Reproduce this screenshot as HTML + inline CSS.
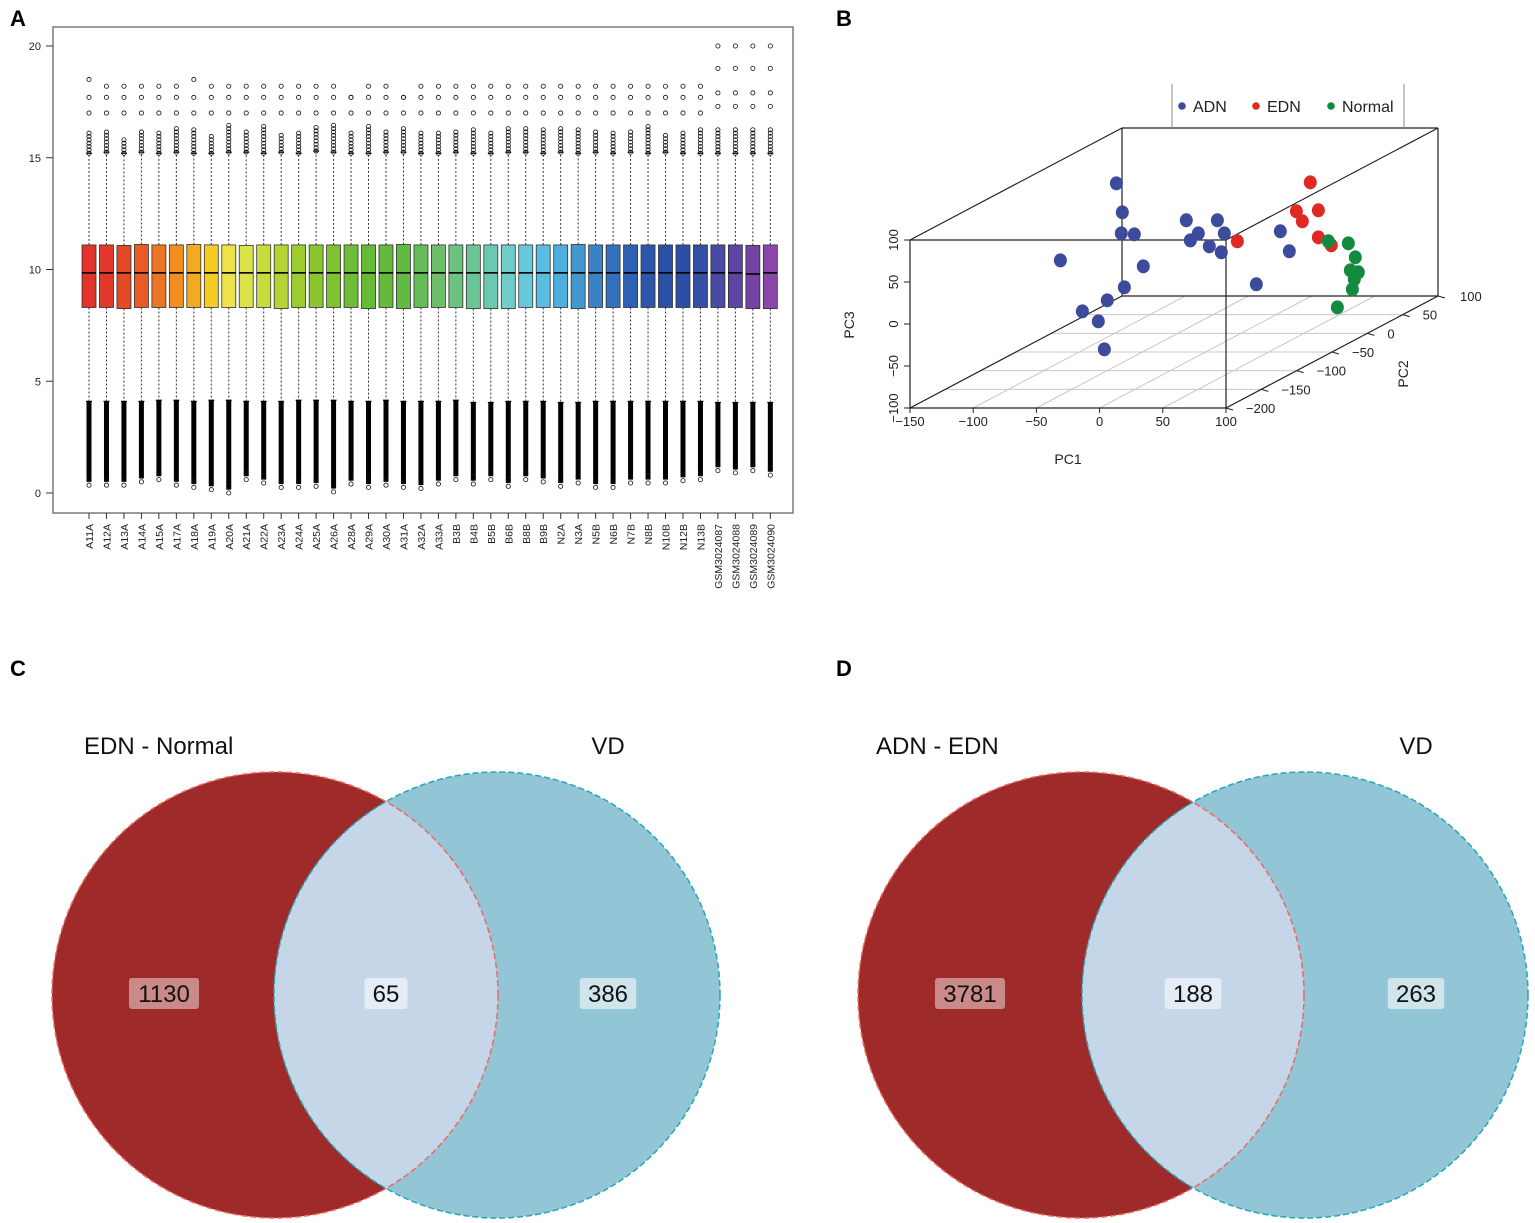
<!DOCTYPE html>
<html><head><meta charset="utf-8">
<style>
html,body{margin:0;padding:0;background:#fff;}
svg{display:block;font-family:"Liberation Sans",sans-serif;}
</style></head>
<body>
<svg id="fig" width="1535" height="1223" viewBox="0 0 1535 1223" xmlns="http://www.w3.org/2000/svg">
  <text x="10" y="26" font-size="22" font-weight="bold">A</text>
  <text x="836" y="26" font-size="22" font-weight="bold">B</text>
  <text x="10" y="676" font-size="22" font-weight="bold">C</text>
  <text x="836" y="676" font-size="22" font-weight="bold">D</text>
  <g id="boxplot"></g>
  <g id="pca"></g>
  <g id="vennC"></g>
  <g id="vennD"></g>
</svg>
<script>
// ---------- Panel A data ----------
const samples = ["A11A","A12A","A13A","A14A","A15A","A17A","A18A","A19A","A20A","A21A","A22A","A23A","A24A","A25A","A26A","A28A","A29A","A30A","A31A","A32A","A33A","B3B","B4B","B5B","B6B","B8B","B9B","N2A","N3A","N5B","N6B","N7B","N8B","N10B","N12B","N13B","GSM3024087","GSM3024088","GSM3024089","GSM3024090"];
const q1 = [8.3,8.3,8.25,8.3,8.3,8.3,8.3,8.3,8.3,8.3,8.3,8.25,8.3,8.3,8.3,8.3,8.25,8.3,8.25,8.3,8.3,8.3,8.25,8.25,8.25,8.3,8.3,8.3,8.25,8.3,8.3,8.3,8.3,8.3,8.3,8.3,8.3,8.3,8.25,8.25];
const medians = [9.85,9.85,9.85,9.85,9.85,9.85,9.85,9.85,9.85,9.85,9.85,9.85,9.85,9.85,9.85,9.85,9.85,9.85,9.85,9.85,9.85,9.85,9.85,9.85,9.85,9.85,9.85,9.85,9.85,9.85,9.85,9.85,9.85,9.85,9.85,9.85,9.85,9.85,9.8,9.85];
const q3 = [11.1,11.1,11.08,11.12,11.1,11.1,11.12,11.1,11.1,11.08,11.1,11.1,11.1,11.1,11.1,11.1,11.1,11.1,11.12,11.1,11.1,11.1,11.1,11.1,11.1,11.1,11.1,11.1,11.12,11.1,11.1,11.1,11.1,11.1,11.1,11.1,11.1,11.1,11.08,11.1];
const whiskHi = [15.2,15.25,15.2,15.25,15.2,15.25,15.2,15.2,15.25,15.25,15.2,15.25,15.2,15.3,15.25,15.2,15.2,15.25,15.25,15.2,15.2,15.25,15.2,15.2,15.25,15.25,15.2,15.25,15.2,15.25,15.2,15.25,15.2,15.25,15.2,15.2,15.2,15.2,15.2,15.2];
const denseTop = [16.1,16.2,15.9,16.2,16.2,16.4,16.3,16.0,16.5,16.2,16.4,16.0,16.1,16.4,16.5,16.1,16.5,16.2,16.3,16.1,16.2,16.2,16.3,16.1,16.3,16.3,16.3,16.3,16.3,16.2,16.2,16.2,16.4,16.1,16.1,16.3,16.3,16.3,16.3,16.3];
const outMax = [18.5,18.2,18.2,18.2,18.2,18.2,18.5,18.2,18.2,18.2,18.2,18.2,18.2,18.2,18.2,17.7,18.2,18.2,17.7,18.2,18.2,18.2,18.2,18.2,18.2,18.2,18.2,18.2,18.2,18.2,18.2,18.2,18.2,18.2,18.2,18.2,20,20,20,20];
const whiskLo = [4.1,4.1,4.1,4.1,4.15,4.15,4.1,4.15,4.15,4.1,4.1,4.1,4.15,4.15,4.15,4.1,4.1,4.15,4.1,4.1,4.1,4.15,4.05,4.05,4.1,4.1,4.1,4.05,4.05,4.1,4.1,4.1,4.1,4.1,4.1,4.1,4.05,4.05,4.05,4.05];
const outMin = [0.35,0.35,0.35,0.5,0.6,0.35,0.25,0.15,0.0,0.6,0.45,0.25,0.25,0.3,0.05,0.4,0.25,0.35,0.25,0.2,0.4,0.6,0.4,0.6,0.3,0.6,0.5,0.3,0.45,0.25,0.25,0.45,0.45,0.45,0.55,0.6,1.0,0.9,1.0,0.8];
const yTicks = [0,5,10,15,20];
const boxColors = ["#e0342a","#e2382b","#e44a26","#e85a26","#ec7424","#f08e22","#f2aa20","#f5cc24","#ede24a","#dce24a","#c9dc3e","#b4d434","#9ccc30","#8ac630","#7ec232","#6fbd36","#66ba38","#64ba3a","#62ba44","#66bc56","#6ebd6a","#6ec280","#6ac496","#6cc8b0","#70ccc6","#66c8da","#58bde0","#4eaedc","#4498d0","#3a82c4","#3270bc","#2e60b4","#2c56ac","#2c50a8","#2c4ea4","#3450a4","#4a4aa4","#5c46a4","#7444a4","#8a46a8"];

// ---------- Panel B data ----------
const adnPC1 = [-56.6,-51.9,-52.7,-42.4,-1.3,23.3,8.2,1.9,28.8,16.9,26.4,73.1,80.2,-100.9,-35.3,54.1,-50.3,-63.8,-83.5,-70.9,-66.1];
const adnPC2 = [-75,-75,-75,-75,-75,-75,-75,-75,-75,-75,-75,-75,-75,-75,-75,-75,-75,-75,-75,-75,-75];
const adnPC3 = [111.9,77.4,52.4,51.2,67.9,67.9,52.4,44,52.4,36.9,29.8,54.8,31,20.2,13.1,-8.3,-11.9,-27.4,-40.5,-52.4,-85.7];
const ednPC1 = [96.8,85.8,103.2,90.5,103.2,113.4,39.1];
const ednPC2 = [-75,-75,-75,-75,-75,-75,-75];
const ednPC3 = [113.1,78.6,79.8,66.7,47.6,38.1,42.9];
const nrmPC1 = [111.1,126.9,132.4,128.5,134.8,131.6,130.1,118.2];
const nrmPC2 = [-75,-75,-75,-75,-75,-75,-75,-75];
const nrmPC3 = [42.9,40.5,23.8,8.3,6,-2.4,-14.3,-35.7];
const pc1Ticks = [-150,-100,-50,0,50,100];
const pc2Ticks = [-200,-150,-100,-50,0,50,100];
const pc3Ticks = [-100,-50,0,50,100];

// ---------- Venn data ----------
const vennCLabels = ["EDN - Normal","VD"];
const vennCCounts = [1130,65,386];
const vennDLabels = ["ADN - EDN","VD"];
const vennDCounts = [3781,188,263];

const NS = "http://www.w3.org/2000/svg";
function mk(parent, tag, attrs, text){
  const e = document.createElementNS(NS, tag);
  for (const k in attrs) e.setAttribute(k, attrs[k]);
  if (text !== undefined) e.textContent = text;
  parent.appendChild(e);
  return e;
}

// ================= Panel A =================
(function(){
  const g = document.getElementById('boxplot');
  const L=53,R=793,T=27,B=513;
  const yS = v => 493 - v*22.35;
  const xS = i => 89 + i*17.47;
  const frame = mk(g,'rect',{x:L,y:T,width:R-L,height:B-T,fill:'none',stroke:'#5a6a6a','stroke-width':1.3});
  
  
  yTicks.forEach(v=>{
    const tl = mk(g,'line',{x1:L-7,x2:L,y1:yS(v),y2:yS(v),stroke:'#333','stroke-width':1});
    
    
    const tt = mk(g,'text',{x:L-12,y:yS(v)+4,'font-size':11,'text-anchor':'end',fill:'#222'},String(v));
    
    
  });
  samples.forEach((s,i)=>{
    const x = xS(i), w = 14;
    const grp = mk(g,'g',{});
    
    
    mk(grp,'line',{x1:x,x2:x,y1:yS(q3[i]),y2:yS(whiskHi[i]),stroke:'#333','stroke-width':1,'stroke-dasharray':'2,2'});
    mk(grp,'line',{x1:x,x2:x,y1:yS(q1[i]),y2:yS(whiskLo[i]),stroke:'#333','stroke-width':1,'stroke-dasharray':'2,2'});
    mk(grp,'line',{x1:x-3,x2:x+3,y1:yS(whiskHi[i]),y2:yS(whiskHi[i]),stroke:'#000','stroke-width':1.2});
    for(let v=whiskHi[i]; v<=denseTop[i]; v+=0.15){
      mk(grp,'circle',{cx:x,cy:yS(v),r:2.1,fill:'none',stroke:'#111','stroke-width':0.8});
    }
    const sparse = outMax[i]>=19.5 ? [outMax[i],outMax[i]-1,17.9,17.3] : [outMax[i],17.7,17.0];
    sparse.forEach(v=>mk(grp,'circle',{cx:x,cy:yS(v),r:2.1,fill:'none',stroke:'#111','stroke-width':0.8}));
    mk(grp,'rect',{x:x-2.5,y:yS(whiskLo[i]),width:5,height:yS(outMin[i]+0.15)-yS(whiskLo[i]),fill:'#000'});
    mk(grp,'line',{x1:x-3,x2:x+3,y1:yS(whiskLo[i]),y2:yS(whiskLo[i]),stroke:'#000','stroke-width':1.2});
    mk(grp,'circle',{cx:x,cy:yS(outMin[i]),r:2.1,fill:'none',stroke:'#111','stroke-width':0.8});
    mk(grp,'circle',{cx:x,cy:yS(outMin[i]+0.3),r:2.1,fill:'none',stroke:'#111','stroke-width':0.8});
    mk(grp,'rect',{x:x-w/2,y:yS(q3[i]),width:w,height:yS(q1[i])-yS(q3[i]),fill:boxColors[i],stroke:'#333','stroke-width':0.8});
    mk(grp,'line',{x1:x-w/2,x2:x+w/2,y1:yS(medians[i]),y2:yS(medians[i]),stroke:'#000','stroke-width':1.6});
    const tk = mk(g,'line',{x1:x,x2:x,y1:B,y2:B+6,stroke:'#333','stroke-width':1});
    
    
    const lab = mk(g,'text',{x:0,y:0,'font-size':10.5,'text-anchor':'end',fill:'#222',transform:`translate(${x+4},${B+11}) rotate(-90)`},s);
    
    
  });
})();

// ================= Panel B =================
(function(){
  const g = document.getElementById('pca');
  const X0=910, X1=1226, Y0=408, Y1=240, DX=212, DY=-112;
  const px = (a,b)=> X0 + (a+150)/250*(X1-X0) + (b+200)/300*DX;
  const py = (c,b)=> Y0 - (c+100)/200*(Y0-Y1) + (b+200)/300*DY;
  const ln = (a,b,c,d,st,w,nm)=>{ const e=mk(g,'line',{x1:a,y1:b,x2:c,y2:d,stroke:st,'stroke-width':w});
    
     return e;};
  pc2Ticks.forEach(v=>{ ln(px(-150,v),py(-100,v),px(100,v),py(-100,v),'#c8c8c8',1,'floor-grid-pc2'); });
  pc1Ticks.forEach(v=>{ ln(px(v,-200),py(-100,-200),px(v,100),py(-100,100),'#c8c8c8',1,'floor-grid-pc1'); });
  ln(px(-150,-200),py(100,-200),px(100,-200),py(100,-200),'#222',1.2,'box-edge');
  ln(px(-150,-200),py(-100,-200),px(100,-200),py(-100,-200),'#222',1.2,'box-edge');
  ln(px(-150,-200),py(-100,-200),px(-150,-200),py(100,-200),'#222',1.2,'box-edge');
  ln(px(100,-200),py(-100,-200),px(100,-200),py(100,-200),'#222',1.2,'box-edge');
  ln(px(-150,100),py(100,100),px(100,100),py(100,100),'#222',1.2,'box-edge');
  ln(px(-150,100),py(-100,100),px(100,100),py(-100,100),'#222',1.2,'box-edge');
  ln(px(-150,100),py(-100,100),px(-150,100),py(100,100),'#222',1.2,'box-edge');
  ln(px(100,100),py(-100,100),px(100,100),py(100,100),'#222',1.2,'box-edge');
  [[-150,-100],[-150,100],[100,-100],[100,100]].forEach(([a,c])=>{
    ln(px(a,-200),py(c,-200),px(a,100),py(c,100),'#222',1.2,'box-edge');
  });
  pc1Ticks.forEach(v=>{
    ln(px(v,-200),Y0,px(v,-200),Y0+5,'#222',1,'pc1-tick');
    const t=mk(g,'text',{x:px(v,-200),y:Y0+18,'font-size':13,'text-anchor':'middle',fill:'#222'},String(v).replace('-','\u2212'));
    
    
  });
  pc3Ticks.forEach(v=>{
    ln(X0-6,py(v,-200),X0,py(v,-200),'#222',1,'pc3-tick');
    const t=mk(g,'text',{x:0,y:0,'font-size':13,'text-anchor':'middle',fill:'#222',transform:`translate(${X0-12},${py(v,-200)}) rotate(-90)`},String(v).replace('-','\u2212'));
    
    
  });
  pc2Ticks.forEach(v=>{
    const ax=px(100,v), ay=py(-100,v);
    ln(ax,ay,ax+7,ay+2,'#222',1,'pc2-tick');
    const t=mk(g,'text',{x:ax+(v===100?22:20),y:ay+5,'font-size':13,'text-anchor':'start',fill:'#222'},String(v).replace('-','\u2212'));
    
    
  });
  const t1=mk(g,'text',{x:1068,y:464,'font-size':14,'text-anchor':'middle',fill:'#222'},'PC1');
  
  
  const t3=mk(g,'text',{x:0,y:0,'font-size':14,'text-anchor':'middle',fill:'#222',transform:'translate(854,325) rotate(-90)'},'PC3');
  
  
  const t2=mk(g,'text',{x:0,y:0,'font-size':14,'text-anchor':'middle',fill:'#222',transform:'translate(1408,374) rotate(-90)'},'PC2');
  
  
  const series=[[adnPC1,adnPC2,adnPC3,'#3d4b9c','adn'],[ednPC1,ednPC2,ednPC3,'#df2a23','edn'],[nrmPC1,nrmPC2,nrmPC3,'#138a3f','normal']];
  series.forEach(([a,b,c,col,nm])=>{
    a.forEach((_,i)=>{
      const p=mk(g,'ellipse',{cx:px(a[i],b[i]),cy:py(c[i],b[i]),rx:6.5,ry:7,fill:col});
      
      
    });
  });
  ln(1172,84,1172,128,'#888',1,'legend-border');
  ln(1404,84,1404,128,'#888',1,'legend-border');
  [['ADN','#3d4b9c',1182],['EDN','#df2a23',1256],['Normal','#138a3f',1331]].forEach(([lb,col,x])=>{
    const d=mk(g,'circle',{cx:x,cy:106,r:3.8,fill:col});
    
    
    const t=mk(g,'text',{x:x+11,y:112,'font-size':16,fill:'#222'},lb);
    
    
  });
})();

// ================= Venn =================
function venn(id, cxL, cxR, labels, counts, titleLX){
  const g = document.getElementById(id);
  const cy=995, r=223;
  const cid = id+'-clip';
  const defs = mk(g,'defs',{});
  const cp = mk(defs,'clipPath',{id:cid});
  mk(cp,'circle',{cx:cxL,cy:cy,r:r});
  const a=mk(g,'circle',{cx:cxL,cy:cy,r:r,fill:'#9e2a2a'});
  
  
  const b=mk(g,'circle',{cx:cxR,cy:cy,r:r,fill:'#92c5d5'});
  
  
  const c=mk(g,'circle',{cx:cxR,cy:cy,r:r,fill:'#c4d6e8','clip-path':`url(#${cid})`});
  
  
  mk(g,'circle',{cx:cxR,cy:cy,r:r,fill:'none',stroke:'#23a8b6','stroke-width':1.5,'stroke-dasharray':'6,3'});
  mk(g,'circle',{cx:cxL,cy:cy,r:r,fill:'none',stroke:'#ec6a60','stroke-width':1.5,'stroke-dasharray':'6,3'});
  const tl=mk(g,'text',{x:titleLX,y:754,'font-size':24,fill:'#111'},labels[0]);
  
  
  const tr=mk(g,'text',{x:cxR+111,y:754,'font-size':24,'text-anchor':'middle',fill:'#111'},labels[1]);
  
  
  const pos=[cxL-111,(cxL+cxR)/2,cxR+111];
  const bg=['rgba(255,255,255,0.45)','rgba(255,255,255,0.55)','rgba(255,255,255,0.55)'];
  counts.forEach((n,i)=>{
    const s=String(n), w=s.length*13.5+16;
    const rr=mk(g,'rect',{x:pos[i]-w/2,y:978,width:w,height:31,rx:3,fill:bg[i]});
    
    
    const t=mk(g,'text',{x:pos[i],y:1002,'font-size':24,'text-anchor':'middle',fill:'#111'},s);
    
    
  });
}
venn('vennC',275,497,vennCLabels,vennCCounts,84);
venn('vennD',1081,1305,vennDLabels,vennDCounts,876);
</script>
</body></html>
